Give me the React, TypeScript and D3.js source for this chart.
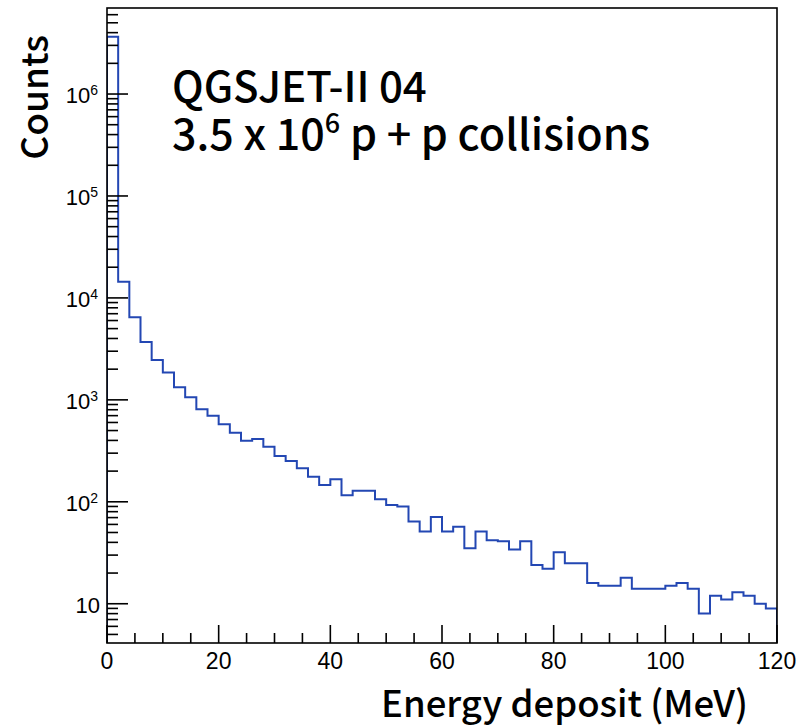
import React from "react";
import * as d3 from "d3";

// Bin edges: 60 bins of 2 MeV from 0 to 120
const binWidth = 2;
const counts = [
  3650000, 14400, 6450, 3690, 2460, 1860, 1330, 1060, 807, 699,
  575, 476, 397, 413, 347, 281, 251, 213, 176, 146,
  166, 116, 128, 128, 106, 93, 90, 64, 51, 71,
  51, 57, 35, 51, 42, 41, 34, 41, 24, 22,
  32, 25, 25, 16, 15, 15, 18, 14, 14, 14,
  15, 16, 14, 8, 12, 11, 13, 12, 10, 9,
];
const xDomain = [0, 120];
const yDomain = [4.12, 6.98e6];
const xMajorTicks = [0, 20, 40, 60, 80, 100, 120];
const xMinorStep = 5;
const yDecades = [1, 2, 3, 4, 5, 6];
const titleLine1 = "QGSJET-II 04";
const xTitle = "Energy deposit (MeV)";
const yTitle = "Counts";

const W = 804;
const H = 726;
const L = 107, R = 777, T = 8, B = 643;

export default function App() {
  const x = d3.scaleLinear().domain(xDomain).range([L, R]);
  const y = d3.scaleLog().domain(yDomain).range([B, T]);

  const pts: [number, number][] = [];
  pts.push([x(0), B]);
  counts.forEach((c, i) => {
    pts.push([x(i * binWidth), y(c)]);
    pts.push([x((i + 1) * binWidth), y(c)]);
  });
  pts.push([x(counts.length * binWidth), B]);
  const path = d3.line()(pts) as string;

  const xMinor: number[] = [];
  for (let v = xDomain[0]; v <= xDomain[1]; v += xMinorStep) {
    if (!xMajorTicks.includes(v)) xMinor.push(v);
  }
  const yMinor: number[] = [];
  for (let e = 0; e <= 7; e++) {
    for (let m = 2; m <= 9; m++) {
      const v = m * Math.pow(10, e);
      if (v >= yDomain[0] && v <= yDomain[1]) yMinor.push(v);
    }
  }

  const tickFont = "'Liberation Sans', Arial, sans-serif";
  const titleFont = "'Noto Sans CJK KR', 'Noto Sans', sans-serif";

  return (
    <svg
      width={W}
      height={H}
      style={{ position: "absolute", left: 0, top: 0, background: "#fff" }}
    >
      <rect x={0} y={0} width={W} height={H} fill="#fff" />
      <defs>
        <clipPath id="plotclip">
          <rect x={L} y={T} width={R - L} height={B - T} />
        </clipPath>
      </defs>
      <path
        d={path}
        fill="none"
        stroke="#2347b3"
        strokeWidth={2}
        clipPath="url(#plotclip)"
      />
      <rect x={L} y={T} width={R - L} height={B - T} fill="none" stroke="#000" strokeWidth={1.6} />
      {xMajorTicks.map((v) => (
        <g key={"xm" + v}>
          <line x1={x(v)} x2={x(v)} y1={B} y2={B - 18} stroke="#000" strokeWidth={1.6} />
          <text
            x={x(v)}
            y={669}
            textAnchor="middle"
            fontFamily={tickFont}
            fontSize={23}
            fill="#000"
          >
            {v}
          </text>
        </g>
      ))}
      {xMinor.map((v) => (
        <line key={"xn" + v} x1={x(v)} x2={x(v)} y1={B} y2={B - 10} stroke="#000" strokeWidth={1.6} />
      ))}
      {yDecades.map((e) => {
        const v = Math.pow(10, e);
        return (
          <g key={"ym" + e}>
            <line x1={L} x2={L + 21} y1={y(v)} y2={y(v)} stroke="#000" strokeWidth={1.6} />
            {e === 1 ? (
              <text x={100} y={y(v) + 9} textAnchor="end" fontFamily={tickFont} fontSize={22} fill="#000">
                10
              </text>
            ) : (
              <text x={98} y={y(v) + 9} textAnchor="end" fontFamily={tickFont} fontSize={22} fill="#000">
                10
                <tspan fontSize={14} dy={-8}>
                  {e}
                </tspan>
              </text>
            )}
          </g>
        );
      })}
      {yMinor.map((v) => (
        <line key={"yn" + v} x1={L} x2={L + 11} y1={y(v)} y2={y(v)} stroke="#000" strokeWidth={1.6} />
      ))}
      <text x={748} y={717} textAnchor="end" fontFamily={titleFont} fontWeight={500} fontSize={36.5} fill="#000">
        {xTitle}
      </text>
      <text
        transform={`translate(48,35) rotate(-90)`}
        textAnchor="end"
        fontFamily={titleFont}
        fontWeight={500}
        fontSize={37}
        fill="#000"
      >
        {yTitle}
      </text>
      <text x={172} y={102} fontFamily={titleFont} fontWeight={500} fontSize={42} fill="#000">
        {titleLine1}
      </text>
      <text x={172} y={150} fontFamily={titleFont} fontWeight={500} fontSize={43} fill="#000">
        3.5 x 10
        <tspan fontSize={27} dy={-17}>6</tspan>
        <tspan dy={17}> p + p collisions</tspan>
      </text>
    </svg>
  );
}
